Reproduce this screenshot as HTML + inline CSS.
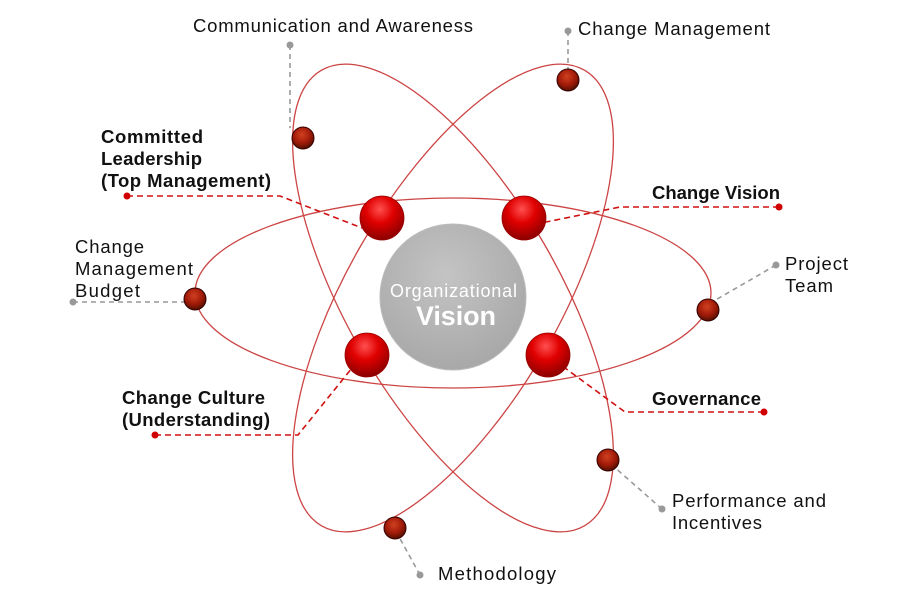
<!DOCTYPE html>
<html><head><meta charset="utf-8"><style>
body{margin:0;background:#fff;}
svg text{font-family:"Liberation Sans",sans-serif;font-size:18.5px;fill:#111;}
.b{font-weight:bold;}
</style></head><body>
<svg width="921" height="593" viewBox="0 0 921 593" xmlns="http://www.w3.org/2000/svg">
<defs>
<radialGradient id="rg" cx="45%" cy="30%" r="70%">
<stop offset="0" stop-color="#ff5050"/><stop offset="0.45" stop-color="#e00000"/><stop offset="1" stop-color="#8a0000"/>
</radialGradient>
<radialGradient id="sg" cx="45%" cy="35%" r="65%">
<stop offset="0" stop-color="#d04020"/><stop offset="0.6" stop-color="#a01a08"/><stop offset="1" stop-color="#501000"/>
</radialGradient>
<radialGradient id="gg" cx="45%" cy="35%" r="70%">
<stop offset="0" stop-color="#c4c4c4"/><stop offset="1" stop-color="#a6a6a6"/>
</radialGradient>
</defs>
<g fill="none" stroke="#cc4444" stroke-width="1.3">
<ellipse cx="453" cy="293" rx="258" ry="95"/>
<ellipse cx="453" cy="298" rx="263" ry="106" transform="rotate(60 453 298)"/>
<ellipse cx="453" cy="298" rx="263" ry="106" transform="rotate(-60 453 298)"/>
</g>
<g stroke="#999" stroke-width="1.6" stroke-dasharray="5,4" fill="none">
<line x1="290" y1="45" x2="290" y2="128"/>
<line x1="568" y1="31" x2="568" y2="70"/>
<line x1="73" y1="302" x2="185" y2="302"/>
<line x1="776" y1="265" x2="712" y2="302"/>
<line x1="662" y1="509" x2="612" y2="465"/>
<line x1="420" y1="575" x2="398" y2="535"/>
</g>
<g fill="#999">
<circle cx="290" cy="45" r="3.5"/><circle cx="568" cy="31" r="3.5"/><circle cx="73" cy="302" r="3.5"/>
<circle cx="776" cy="265" r="3.5"/><circle cx="662" cy="509" r="3.5"/><circle cx="420" cy="575" r="3.5"/>
</g>
<g stroke="#d01010" stroke-width="1.6" stroke-dasharray="6,4" fill="none">
<polyline points="127,196 280,196 362,228"/>
<polyline points="779,207 620,207 546,222"/>
<polyline points="155,435 298,435 352,368"/>
<polyline points="764,412 625,412 565,368"/>
</g>
<g fill="#d00000">
<circle cx="127" cy="196" r="3.5"/><circle cx="779" cy="207" r="3.5"/><circle cx="155" cy="435" r="3.5"/><circle cx="764" cy="412" r="3.5"/>
</g>
<circle cx="453" cy="297" r="73" fill="url(#gg)" stroke="#bbb"/>
<text x="390" y="297" textLength="127" style="fill:#fff;font-size:18px">Organizational</text>
<text x="416" y="325" textLength="80" style="fill:#fff;font-size:27px;font-weight:bold">Vision</text>
<g fill="url(#rg)" stroke="#900" stroke-width="0.8">
<circle cx="382" cy="218" r="22"/><circle cx="524" cy="218" r="22"/><circle cx="367" cy="355" r="22"/><circle cx="548" cy="355" r="22"/>
</g>
<g fill="url(#sg)" stroke="#300" stroke-width="1">
<circle cx="303" cy="138" r="11"/><circle cx="568" cy="80" r="11"/><circle cx="195" cy="299" r="11"/>
<circle cx="708" cy="310" r="11"/><circle cx="608" cy="460" r="11"/><circle cx="395" cy="528" r="11"/>
</g>
<text x="193" y="32" textLength="280">Communication and Awareness</text>
<text x="578" y="35" textLength="192">Change Management</text>
<text class="b" x="101" y="143" textLength="102">Committed</text>
<text class="b" x="101" y="165" textLength="101">Leadership</text>
<text class="b" x="101" y="187" textLength="170">(Top Management)</text>
<text class="b" x="652" y="199" textLength="128">Change Vision</text>
<text x="75" y="253" textLength="69">Change</text>
<text x="75" y="275" textLength="118">Management</text>
<text x="75" y="297" textLength="65">Budget</text>
<text x="785" y="270" textLength="63">Project</text>
<text x="785" y="292" textLength="48">Team</text>
<text class="b" x="122" y="404" textLength="143">Change Culture</text>
<text class="b" x="122" y="426" textLength="148">(Understanding)</text>
<text class="b" x="652" y="405" textLength="109">Governance</text>
<text x="672" y="507" textLength="154">Performance and</text>
<text x="672" y="529" textLength="90">Incentives</text>
<text x="438" y="580" textLength="118">Methodology</text>
</svg>
</body></html>
